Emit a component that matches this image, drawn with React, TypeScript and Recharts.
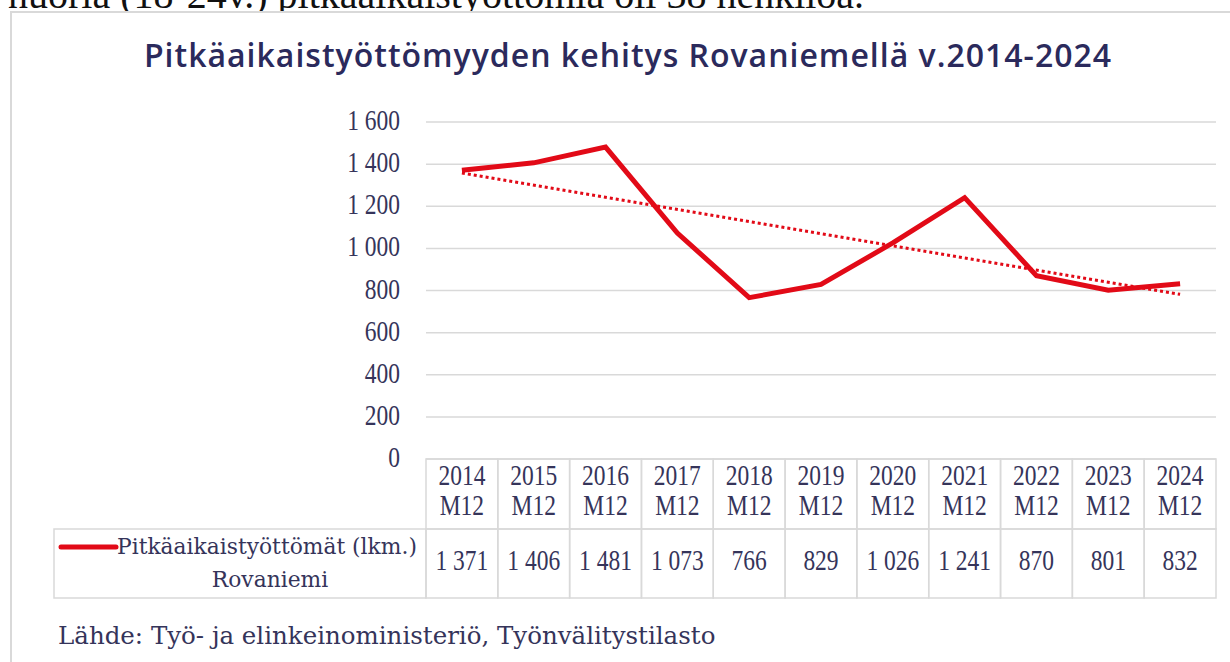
import { LineChart, Line, XAxis, YAxis, CartesianGrid, ReferenceLine } from 'recharts'

const years = ['2014', '2015', '2016', '2017', '2018', '2019', '2020', '2021', '2022', '2023', '2024']
const periodLabel = 'M12'
const values = [1371, 1406, 1481, 1073, 766, 829, 1026, 1241, 870, 801, 832]
// linear trendline end points
const trendEnds = [1358, 782]
const yTicks = [0, 200, 400, 600, 800, 1000, 1200, 1400, 1600]

const seriesName = 'Pitkäaikaistyöttömät (lkm.)'
const seriesPlace = 'Rovaniemi'
const title = 'Pitkäaikaistyöttömyyden kehitys Rovaniemellä v.2014-2024'
const source = 'Lähde: Työ- ja elinkeinoministeriö, Työnvälitystilasto'
const topText = 'nuoria (18-24v.) pitkäaikaistyöttömiä oli 38 henkilöä.'

const RED = '#e20a17'
const NAVY = '#35345a'
const BORDER = '#d9d9d9'
const SERIF = '"Liberation Serif", serif'
const TEXT_SERIF = '"DejaVu Serif", serif'

const PLOT_LEFT = 426
const PLOT_RIGHT = 1216
const BAND = (PLOT_RIGHT - PLOT_LEFT) / years.length

const data = years.map((year, i) => ({ year, value: values[i] }))

const fmt = (n: number) =>
  n >= 1000 ? `${Math.floor(n / 1000)} ${String(n % 1000).padStart(3, '0')}` : String(n)

function TallText({ x, y, anchor, children }: any) {
  return (
    <g transform={`translate(${x},${y}) scale(1,1.22)`}>
      <text x={0} y={0} textAnchor={anchor} fontFamily={SERIF} fontSize={23.5} fill={NAVY}>
        {children}
      </text>
    </g>
  )
}

function YTick({ x, y, payload }: any) {
  return <TallText x={x} y={y + 8} anchor="end">{fmt(payload.value)}</TallText>
}

function TableTick({ x, y, payload }: any) {
  const i = years.indexOf(payload.value)
  return (
    <g>
      <rect x={x - BAND / 2} y={y} width={BAND} height={70} fill="none" stroke={BORDER} strokeWidth={1.5} />
      <rect x={x - BAND / 2} y={y + 70} width={BAND} height={69} fill="none" stroke={BORDER} strokeWidth={1.5} />
      <TallText x={x} y={y + 26} anchor="middle">{payload.value}</TallText>
      <TallText x={x} y={y + 56} anchor="middle">{periodLabel}</TallText>
      <TallText x={x} y={y + 111} anchor="middle">{fmt(values[i])}</TallText>
    </g>
  )
}

export default function App() {
  return (
    <div style={{ position: 'absolute', left: 0, top: 0, width: 1230, height: 662, overflow: 'hidden', background: '#fff' }}>
      <svg width={1230} height={662} style={{ position: 'absolute', left: 0, top: 0 }}>
        <text x={8} y={8} fontFamily={SERIF} fontSize={40} fill="#111">{topText}</text>
        <rect x={11} y={12} width={1240} height={700} fill="#fff" stroke={BORDER} strokeWidth={2} />
        <text x={628} y={67} textAnchor="middle" fontFamily='"Open Sans", sans-serif' fontWeight={600} fontSize={32} letterSpacing={1} fill="#2b2a5c">
          {title}
        </text>
        <rect x={54} y={529} width={PLOT_LEFT - 54} height={69} fill="none" stroke={BORDER} strokeWidth={1.5} />
        <line x1={61} x2={116} y1={547} y2={547} stroke={RED} strokeWidth={5} strokeLinecap="round" />
        <text x={117} y={554} fontFamily={TEXT_SERIF} fontSize={21.8} fill={NAVY}>{seriesName}</text>
        <text x={270} y={587} textAnchor="middle" fontFamily={TEXT_SERIF} fontSize={21.8} fill={NAVY}>{seriesPlace}</text>
        <text x={58} y={644} fontFamily={TEXT_SERIF} fontSize={24.5} fill={NAVY}>{source}</text>
      </svg>
      <div style={{ position: 'absolute', left: 0, top: 0 }}>
        <LineChart width={1230} height={600} data={data} margin={{ top: 122, right: 1230 - PLOT_RIGHT, bottom: 2, left: 0 }}>
          <CartesianGrid vertical={false} stroke={BORDER} strokeWidth={1.5} />
          <XAxis
            dataKey="year"
            scale="band"
            interval={0}
            height={139}
            axisLine={false}
            tickLine={false}
            tickSize={0}
            tickMargin={0}
            tick={<TableTick />}
          />
          <YAxis
            domain={[0, 1600]}
            ticks={yTicks}
            width={PLOT_LEFT}
            axisLine={false}
            tickLine={false}
            tickSize={0}
            tickMargin={26}
            tick={<YTick />}
          />
          <ReferenceLine
            segment={[{ x: years[0], y: trendEnds[0] }, { x: years[years.length - 1], y: trendEnds[1] }]}
            stroke={RED}
            strokeWidth={3}
            strokeDasharray="3 3"
            ifOverflow="visible"
          />
          <Line type="linear" dataKey="value" stroke={RED} strokeWidth={5} dot={false} isAnimationActive={false} />
        </LineChart>
      </div>
    </div>
  )
}
